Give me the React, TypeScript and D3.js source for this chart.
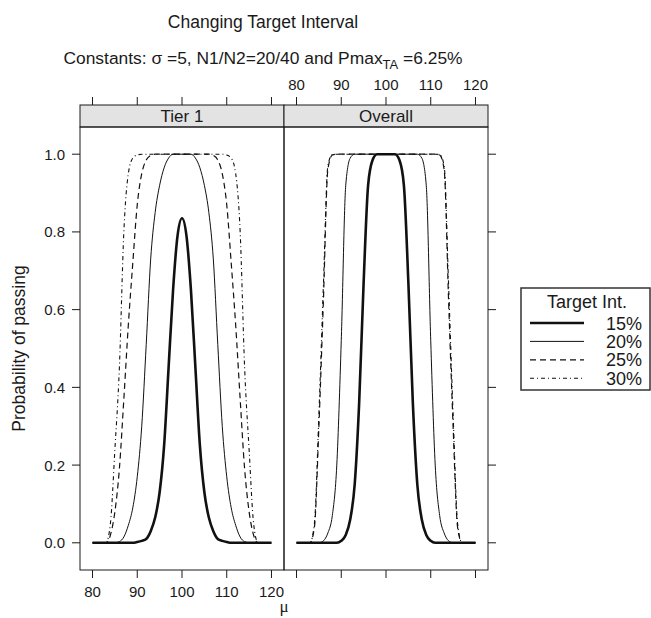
import React from 'react';
import * as d3 from 'd3';

// mu grid, 80..120 in steps of 1
const mu = d3.range(80, 121);
const xTicks = [80, 90, 100, 110, 120];
const yTicks = [0, 0.2, 0.4, 0.6, 0.8, 1.0];
const panels = ['Tier 1', 'Overall'];
const targetInts = ['15%', '20%', '25%', '30%'];

// Tier 1 curves
const tier1_15 = [0, 0, 0, 0, 0, 0, 0, 0, 0, 0, 0.002, 0.005, 0.01, 0.03, 0.065, 0.13, 0.25, 0.45, 0.65, 0.79, 0.835,
  0.79, 0.65, 0.45, 0.25, 0.13, 0.065, 0.03, 0.01, 0.005, 0.002, 0, 0, 0, 0, 0, 0, 0, 0, 0, 0];
const tier1_20 = [0, 0, 0, 0, 0, 0, 0.003, 0.015, 0.045, 0.09, 0.17, 0.3, 0.51, 0.73, 0.85, 0.92, 0.965, 0.99, 1, 1, 1,
  1, 1, 0.99, 0.965, 0.92, 0.85, 0.73, 0.51, 0.3, 0.17, 0.09, 0.045, 0.015, 0.003, 0, 0, 0, 0, 0, 0];
const tier1_25 = [0, 0, 0, 0, 0.02, 0.08, 0.19, 0.37, 0.56, 0.72, 0.87, 0.95, 0.985, 0.997, 1, 1, 1, 1, 1, 1, 1,
  1, 1, 1, 1, 1, 1, 0.997, 0.985, 0.95, 0.87, 0.72, 0.56, 0.37, 0.19, 0.08, 0.02, 0, 0, 0, 0];
const tier1_30 = [0, 0, 0, 0, 0.05, 0.24, 0.45, 0.8, 0.95, 0.99, 0.998, 1, 1, 1, 1, 1, 1, 1, 1, 1, 1,
  1, 1, 1, 1, 1, 1, 1, 1, 1, 0.998, 0.99, 0.95, 0.8, 0.45, 0.24, 0.05, 0, 0, 0, 0];

// Overall curves
const overall_15 = [0, 0, 0, 0, 0, 0, 0, 0, 0, 0, 0.005, 0.02, 0.06, 0.15, 0.36, 0.67, 0.92, 0.985, 1, 1, 1,
  1, 1, 0.985, 0.92, 0.67, 0.36, 0.15, 0.06, 0.02, 0.005, 0, 0, 0, 0, 0, 0, 0, 0, 0, 0];
const overall_20 = [0, 0, 0, 0, 0, 0, 0.005, 0.025, 0.07, 0.2, 0.52, 0.92, 0.99, 1, 1, 1, 1, 1, 1, 1, 1,
  1, 1, 1, 1, 1, 1, 1, 0.99, 0.92, 0.52, 0.2, 0.07, 0.025, 0.005, 0, 0, 0, 0, 0, 0];
const overall_25 = [0, 0, 0, 0, 0.04, 0.3, 0.62, 0.96, 0.998, 1, 1, 1, 1, 1, 1, 1, 1, 1, 1, 1, 1,
  1, 1, 1, 1, 1, 1, 1, 1, 1, 1, 1, 0.998, 0.96, 0.62, 0.3, 0.04, 0, 0, 0, 0];
const overall_30 = [0, 0, 0, 0, 0.05, 0.33, 0.66, 0.97, 0.999, 1, 1, 1, 1, 1, 1, 1, 1, 1, 1, 1, 1,
  1, 1, 1, 1, 1, 1, 1, 1, 1, 1, 1, 0.999, 0.97, 0.66, 0.33, 0.05, 0, 0, 0, 0];

const panelSeries = [
  [tier1_15, tier1_20, tier1_25, tier1_30],
  [overall_15, overall_20, overall_25, overall_30],
];

const lineStyles = [
  { width: 2.6, dash: '' },
  { width: 1, dash: '' },
  { width: 1.2, dash: '6,4' },
  { width: 1.1, dash: '4,3,1,3' },
];

const font = '"Liberation Sans", Arial, Helvetica, sans-serif';
const ink = '#1a1a1a';

export default function App() {
  const left = 80;
  const panelW = 204;
  const stripTop = 105;
  const stripBottom = 127;
  const bottom = 570;

  // lattice-style 7% padding on both axes
  const y = d3.scaleLinear().domain([-0.07, 1.07]).range([bottom, stripBottom]);
  const xFor = (i: number) =>
    d3.scaleLinear().domain([77.2, 122.8]).range([left + i * panelW, left + (i + 1) * panelW]);

  const right = left + 2 * panelW;

  return (
    <svg width={651} height={618} style={{ display: 'block', position: 'absolute', left: 0, top: 0 }}
      fontFamily={font}>
      <rect width={651} height={618} fill="#fff" />
      <text x={263} y={28} textAnchor="middle" fontSize={17.5} fill={ink}>Changing Target Interval</text>
      <text x={263} y={64} textAnchor="middle" fontSize={17.4} fill={ink}>
        Constants: σ =5, N1/N2=20/40 and Pmax
        <tspan fontSize={13} dy={5}>TA</tspan>
        <tspan dy={-5}> =6.25%</tspan>
      </text>

      {panels.map((name, i) => {
        const x = xFor(i);
        const x0 = left + i * panelW;
        const line = d3.line<number>()
          .x((_, k) => x(mu[k]))
          .y(d => y(d))
          .curve(d3.curveMonotoneX);
        return (
          <g key={name}>
            {/* top ticks */}
            {xTicks.map(t => (
              <line key={'tt' + t} x1={x(t)} x2={x(t)} y1={stripTop} y2={stripTop - 8} stroke={ink} />
            ))}
            {i === 1 && xTicks.map(t => (
              <text key={'tl' + t} x={x(t)} y={90} textAnchor="middle" fontSize={15} fill={ink}>{t}</text>
            ))}
            {/* bottom ticks */}
            {xTicks.map(t => (
              <line key={'bt' + t} x1={x(t)} x2={x(t)} y1={bottom} y2={bottom + 8} stroke={ink} />
            ))}
            {i === 0 && xTicks.map(t => (
              <text key={'bl' + t} x={x(t)} y={597} textAnchor="middle" fontSize={15} fill={ink}>{t}</text>
            ))}
            {/* strip */}
            <rect x={x0} y={stripTop} width={panelW} height={stripBottom - stripTop} fill="#e3e3e3" stroke={ink} />
            <text x={x0 + panelW / 2} y={stripBottom - 5} textAnchor="middle" fontSize={17} fill={ink}>{name}</text>
            {/* curves */}
            {panelSeries[i].map((s, k) => (
              <path key={k} d={line(s) || ''} fill="none" stroke="#111"
                strokeWidth={lineStyles[k].width} strokeDasharray={lineStyles[k].dash || undefined} />
            ))}
            <rect x={x0} y={stripBottom} width={panelW} height={bottom - stripBottom} fill="none" stroke={ink} />
          </g>
        );
      })}

      {/* y axis left with labels, right ticks only */}
      {yTicks.map(t => (
        <g key={t}>
          <line x1={left} x2={left - 8} y1={y(t)} y2={y(t)} stroke={ink} />
          <text x={65} y={y(t) + 5.5} textAnchor="end" fontSize={15} fill={ink}>{t.toFixed(1)}</text>
          <line x1={right} x2={right + 8} y1={y(t)} y2={y(t)} stroke={ink} />
        </g>
      ))}
      <text transform={`translate(25,${(stripBottom + bottom) / 2}) rotate(-90)`} textAnchor="middle"
        fontSize={17.5} fill={ink}>Probability of passing</text>
      <text x={284} y={612} textAnchor="middle" fontSize={17} fontFamily="'Liberation Serif', serif" fill={ink}>μ</text>

      {/* legend */}
      <g>
        <rect x={521} y={288} width={129} height={102} fill="#fff" stroke="#333" strokeWidth={1.5} />
        <text x={587} y={308} textAnchor="middle" fontSize={18} fill={ink}>Target Int.</text>
        {targetInts.map((lab, k) => {
          const ly = 323 + k * 18.4;
          return (
            <g key={lab}>
              <line x1={530} x2={584} y1={ly} y2={ly} stroke="#111" strokeWidth={lineStyles[k].width}
                strokeDasharray={lineStyles[k].dash || undefined} />
              <text x={642} y={ly + 6.5} textAnchor="end" fontSize={18} fill={ink}>{lab}</text>
            </g>
          );
        })}
      </g>
    </svg>
  );
}
